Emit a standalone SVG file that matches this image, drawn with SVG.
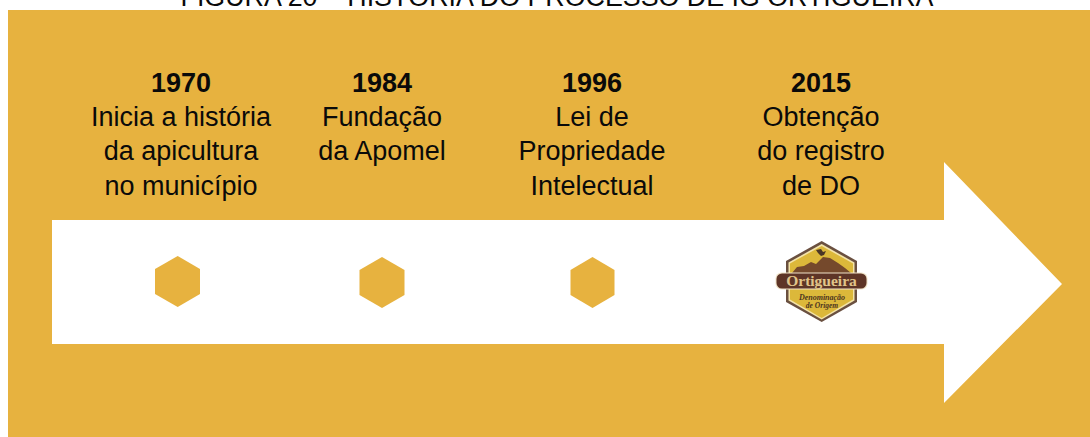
<svg xmlns="http://www.w3.org/2000/svg" width="1090" height="437" viewBox="0 0 1090 437">
<style>
.t{font-family:"Liberation Sans",Arial,sans-serif;font-size:27px;fill:#0a0a0a;text-anchor:middle}
.y{font-weight:700;font-size:27px}
.h{fill:#e7b23f}
.s{font-family:"Liberation Serif",serif;text-anchor:middle;font-weight:700}
</style>
<rect width="1090" height="437" fill="#fff"/>
<text x="557" y="6" font-family="Liberation Sans,Arial,sans-serif" font-size="26.800" fill="#0a0a0a" text-anchor="middle">FIGURA 20 – HISTÓRIA DO PROCESSO DE IG ORTIGUEIRA</text>
<rect id="background" x="8" y="10" width="1082" height="427" fill="#e7b23f"/>
<g id="connectors"><polygon id="arrow" points="52,220 944,220 944,162 1062,284 944,403 944,344 52,344" fill="#fff"/></g>
<g id="node-1970"><polygon class="h" points="177.700,256 200,269 200,294 177.700,307 155,294 155,269"/>
<text class="t y" x="181" y="92">1970</text><text class="t" x="181" y="126">Inicia a história</text><text class="t" x="181" y="160">da apicultura</text><text class="t" x="181" y="195">no município</text></g>
<g id="node-1984"><polygon class="h" points="382,257 404.500,270 404.500,295 382,308 359.500,295 359.500,270"/>
<text class="t y" x="382" y="92">1984</text><text class="t" x="382" y="126">Fundação</text><text class="t" x="382" y="160">da Apomel</text></g>
<g id="node-1996"><polygon class="h" points="592.500,257 614.500,270 614.500,295 592.500,308 570.500,295 570.500,270"/>
<text class="t y" x="592" y="92">1996</text><text class="t" x="592" y="126">Lei de</text><text class="t" x="592" y="160">Propriedade</text><text class="t" x="592" y="195">Intelectual</text></g>
<g id="node-2015">
<text class="t y" x="821" y="92">2015</text><text class="t" x="821" y="126">Obtenção</text><text class="t" x="821" y="160">do registro</text><text class="t" x="821" y="195">de DO</text>
<polygon points="821.700,241 857,261 857,302 821.700,322 786,302 786,261" fill="#6a5040"/>
<polygon points="821.700,244 854.500,262.500 854.500,300.500 821.700,319.500 788.500,300.500 788.500,262.500" fill="#f3e3a8"/>
<polygon points="821.700,246 853,263.500 853,299.500 821.700,318 790,299.500 790,263.500" fill="#dcb83a"/>
<polygon points="792,273 797,267 804,266 811,262 816,264 823,257 830,258 838,263 845,268 851,273" fill="#75492c"/>
<path d="M816 250l5-1 2 3 3-1-2 4-3 1-3-3z" fill="#4a3626"/>
<rect x="775.500" y="272.500" width="92" height="17" rx="6" fill="#f0e3c8"/>
<rect x="776.500" y="273.500" width="90" height="15" rx="5.500" fill="#5e3527"/>
<text class="s" x="821.500" y="286" font-size="15.500" fill="#e0c48a">Ortigueira</text>
<text class="s" x="822" y="300" font-size="8" fill="#4d3520" font-style="italic">Denominação</text>
<text class="s" x="822" y="308" font-size="7.500" fill="#4d3520" font-style="italic">de Origem</text>
</g>
</svg>
